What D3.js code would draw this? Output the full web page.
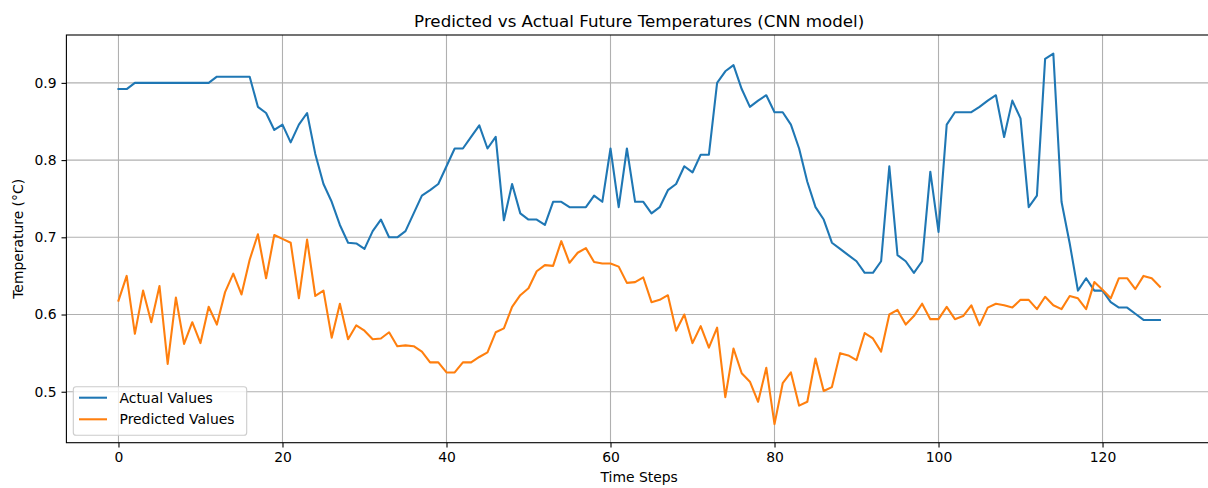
<!DOCTYPE html>
<html>
<head>
<meta charset="utf-8">
<script src="https://cdn.jsdelivr.net/npm/d3@7"></script>
<style>
  html, body { margin: 0; padding: 0; background: #fff; overflow: hidden; }
  svg { display: block; font-family: "DejaVu Sans", sans-serif; }
</style>
</head>
<body>
<svg id="chart" width="1208" height="488"></svg>
<script>
// Normalised temperatures over 128 future time steps
const actualValues = [
  0.892, 0.892, 0.900, 0.900, 0.900, 0.900, 0.900, 0.900, 0.900, 0.900,
  0.900, 0.900, 0.908, 0.908, 0.908, 0.908, 0.908, 0.869, 0.861, 0.839,
  0.846, 0.823, 0.846, 0.861, 0.808, 0.769, 0.746, 0.716, 0.693, 0.692,
  0.685, 0.708, 0.723, 0.700, 0.700, 0.708, 0.731, 0.754, 0.761, 0.769,
  0.792, 0.815, 0.815, 0.830, 0.845, 0.815, 0.830, 0.722, 0.769, 0.731,
  0.723, 0.723, 0.716, 0.746, 0.746, 0.739, 0.739, 0.739, 0.754, 0.746,
  0.815, 0.739, 0.815, 0.746, 0.746, 0.731, 0.739, 0.761, 0.769, 0.792,
  0.784, 0.807, 0.807, 0.900, 0.915, 0.923, 0.892, 0.869, 0.877, 0.884,
  0.862, 0.862, 0.846, 0.815, 0.772, 0.739, 0.723, 0.693, 0.685, 0.677,
  0.669, 0.654, 0.654, 0.669, 0.792, 0.677, 0.669, 0.654, 0.669, 0.785,
  0.707, 0.846, 0.862, 0.862, 0.862, 0.869, 0.877, 0.884, 0.830, 0.877,
  0.854, 0.739, 0.754, 0.931, 0.938, 0.746, 0.692, 0.631, 0.647, 0.631,
  0.631, 0.616, 0.609, 0.609, 0.601, 0.593, 0.593, 0.593
];
const predictedValues = [
  0.618, 0.650, 0.575, 0.631, 0.590, 0.637, 0.536, 0.622, 0.562, 0.590,
  0.563, 0.610, 0.587, 0.629, 0.653, 0.626, 0.671, 0.704, 0.647, 0.703,
  0.698, 0.693, 0.621, 0.697, 0.624, 0.631, 0.570, 0.614, 0.568, 0.586,
  0.579, 0.568, 0.569, 0.577, 0.559, 0.560, 0.559, 0.552, 0.538, 0.538,
  0.525, 0.525, 0.538, 0.538, 0.545, 0.551, 0.577, 0.582, 0.610, 0.625,
  0.634, 0.656, 0.664, 0.663, 0.695, 0.667, 0.680, 0.686, 0.668, 0.666,
  0.666, 0.662, 0.641, 0.642, 0.648, 0.616, 0.619, 0.625, 0.579, 0.600,
  0.563, 0.585, 0.557, 0.583, 0.493, 0.556, 0.524, 0.513, 0.487, 0.531,
  0.458, 0.511, 0.525, 0.482, 0.487, 0.543, 0.501, 0.506, 0.550, 0.547,
  0.541, 0.576, 0.569, 0.552, 0.600, 0.606, 0.587, 0.598, 0.614, 0.594,
  0.594, 0.610, 0.594, 0.598, 0.612, 0.586, 0.609, 0.614, 0.612, 0.609,
  0.619, 0.619, 0.607, 0.623, 0.612, 0.607, 0.624, 0.621, 0.607, 0.642,
  0.632, 0.621, 0.647, 0.647, 0.633, 0.650, 0.647, 0.636
];
const xTicks = [0, 20, 40, 60, 80, 100, 120];
const yTicks = [0.5, 0.6, 0.7, 0.8, 0.9];
const seriesNames = ["Actual Values", "Predicted Values"];
const seriesColors = ["#1f77b4", "#ff7f0e"];

const svg = d3.select("#chart");
const plot = { left: 66.4, top: 35, right: 1212, bottom: 442.7 };

// Axis limits padded by 5% of the data span, like matplotlib's autoscale
const n = actualValues.length;
const xPad = (n - 1) * 0.05;
const x = d3.scaleLinear()
  .domain([-xPad, n - 1 + xPad])
  .range([plot.left, plot.right]);

const allVals = actualValues.concat(predictedValues);
const [yMin, yMax] = d3.extent(allVals);
const yPad = (yMax - yMin) * 0.05;
const y = d3.scaleLinear()
  .domain([yMin - yPad, yMax + yPad])
  .range([plot.bottom, plot.top]);

// Grid
const grid = svg.append("g").attr("stroke", "#b0b0b0").attr("stroke-width", 1.1);
grid.selectAll("line.gx").data(xTicks).join("line")
  .attr("x1", d => x(d)).attr("x2", d => x(d))
  .attr("y1", plot.top).attr("y2", plot.bottom);
grid.selectAll("line.gy").data(yTicks).join("line")
  .attr("class", "gy")
  .attr("x1", plot.left).attr("x2", plot.right)
  .attr("y1", d => y(d)).attr("y2", d => y(d));

// Series lines
const line = d3.line().x((d, i) => x(i)).y(d => y(d));
[actualValues, predictedValues].forEach((vals, k) => {
  svg.append("path")
    .datum(vals)
    .attr("d", line)
    .attr("fill", "none")
    .attr("stroke", seriesColors[k])
    .attr("stroke-width", 2.08)
    .attr("stroke-linejoin", "round")
    .attr("stroke-linecap", "square");
});

// Axes
const xAxis = d3.axisBottom(x).tickValues(xTicks).tickSize(4.9).tickPadding(4.9).tickFormat(d3.format("d"));
const yAxis = d3.axisLeft(y).tickValues(yTicks).tickSize(4.9).tickPadding(4.9).tickFormat(d3.format(".1f"));

const gx = svg.append("g").attr("transform", `translate(0,${plot.bottom})`).call(xAxis);
const gy = svg.append("g").attr("transform", `translate(${plot.left},0)`).call(yAxis);
[gx, gy].forEach(g => {
  g.select(".domain").remove();
  g.selectAll(".tick line").attr("stroke", "#000").attr("stroke-width", 1.1);
  g.selectAll(".tick text")
    .attr("fill", "#000")
    .style("font-family", "'DejaVu Sans', sans-serif")
    .style("font-size", "13.9px");
});

// Frame
svg.append("rect")
  .attr("x", plot.left).attr("y", plot.top)
  .attr("width", plot.right - plot.left).attr("height", plot.bottom - plot.top)
  .attr("fill", "none").attr("stroke", "#000").attr("stroke-width", 1.1);

// Titles
const cx = (plot.left + plot.right) / 2;
svg.append("text")
  .attr("x", cx).attr("y", 26.7)
  .attr("text-anchor", "middle")
  .style("font-size", "16.7px")
  .text("Predicted vs Actual Future Temperatures (CNN model)");
svg.append("text")
  .attr("x", cx).attr("y", 482)
  .attr("text-anchor", "middle")
  .style("font-size", "13.9px")
  .text("Time Steps");
svg.append("text")
  .attr("transform", `translate(22.5,${(plot.top + plot.bottom) / 2}) rotate(-90)`)
  .attr("text-anchor", "middle")
  .style("font-size", "13.9px")
  .text("Temperature (°C)");

// Legend, lower left
const legend = svg.append("g");
legend.append("rect")
  .attr("x", 73.3).attr("y", 386.7)
  .attr("width", 173.4).attr("height", 48.6)
  .attr("rx", 2.8).attr("ry", 2.8)
  .attr("fill", "#fff").attr("fill-opacity", 0.8)
  .attr("stroke", "#cccccc").attr("stroke-width", 1.1);
seriesNames.forEach((name, k) => {
  const cy = 397.7 + k * 21.6;
  legend.append("line")
    .attr("x1", 79).attr("x2", 107)
    .attr("y1", cy).attr("y2", cy)
    .attr("stroke", seriesColors[k]).attr("stroke-width", 2.08);
  legend.append("text")
    .attr("x", 119.5).attr("y", cy)
    .attr("dy", "0.36em")
    .style("font-size", "13.9px")
    .text(name);
});
</script>
</body>
</html>
